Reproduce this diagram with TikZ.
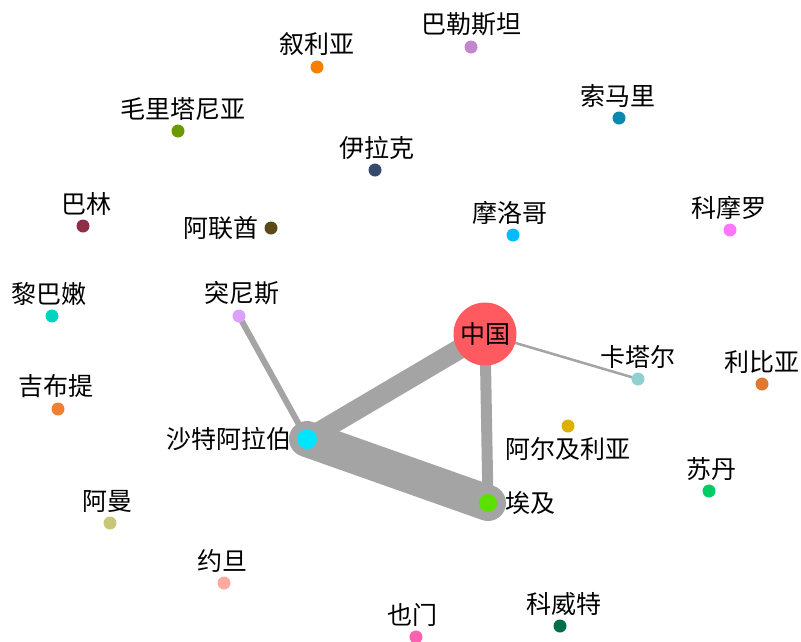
\documentclass[tikz,border=0pt]{standalone}
\usepackage{fontspec}
\newfontfamily\cjk{Noto Sans CJK SC}
\usetikzlibrary{backgrounds}

\definecolor{linkgray}{HTML}{A4A4A4}
\definecolor{cChina}{HTML}{FF5A5F}
\definecolor{cSyria}{HTML}{F77F00}
\definecolor{cPalestine}{HTML}{C384D0}
\definecolor{cMauritania}{HTML}{6A9A00}
\definecolor{cIraq}{HTML}{364A6E}
\definecolor{cSomalia}{HTML}{0A88B0}
\definecolor{cBahrain}{HTML}{8E2E48}
\definecolor{cUAE}{HTML}{5A4A1A}
\definecolor{cMorocco}{HTML}{00BBFF}
\definecolor{cComoros}{HTML}{FF77FF}
\definecolor{cLebanon}{HTML}{00D4C0}
\definecolor{cTunisia}{HTML}{DDA0FF}
\definecolor{cQatar}{HTML}{90D0D0}
\definecolor{cLibya}{HTML}{E07830}
\definecolor{cDjibouti}{HTML}{F08030}
\definecolor{cAlgeria}{HTML}{E0B000}
\definecolor{cSaudi}{HTML}{00E5FF}
\definecolor{cSudan}{HTML}{00CC66}
\definecolor{cEgypt}{HTML}{5CE000}
\definecolor{cOman}{HTML}{C6C878}
\definecolor{cJordan}{HTML}{FFAAA0}
\definecolor{cYemen}{HTML}{FF60B0}
\definecolor{cKuwait}{HTML}{006E4E}

\tikzset{
  country/.style={circle, inner sep=0pt, minimum size=13pt, draw=none},
  lbl/.style={font=\cjk\fontsize{25}{25}\selectfont, inner sep=0pt, text=black},
  link/.style={draw=linkgray, line cap=round},
}

\begin{document}
\begin{tikzpicture}[x=1pt, y=-1pt, label distance=4pt]
  \useasboundingbox (0,0) rectangle (801,641);

  % countries
  \node[country, fill=cChina, minimum size=63pt, lbl] (china) at (485,334) {中国};
  \node[country, fill=cSyria]      (syria)      at (317,67)  [label={[lbl]above:叙利亚}] {};
  \node[country, fill=cPalestine]  (palestine)  at (471,47)  [label={[lbl]above:巴勒斯坦}] {};
  \node[country, fill=cMauritania] (mauritania) at (178,131) [label={[lbl,xshift=5pt]above:毛里塔尼亚}] {};
  \node[country, fill=cIraq]       (iraq)       at (375,170) [label={[lbl,xshift=2pt]above:伊拉克}] {};
  \node[country, fill=cSomalia]    (somalia)    at (619,118) [label={[lbl,xshift=-1pt]above:索马里}] {};
  \node[country, fill=cBahrain]    (bahrain)    at (83,226)  [label={[lbl,xshift=3pt]above:巴林}] {};
  \node[country, fill=cUAE]        (uae)        at (271,228) [label={[lbl,label distance=6pt]left:阿联酋}] {};
  \node[country, fill=cMorocco]    (morocco)    at (513,235) [label={[lbl,xshift=-3pt]above:摩洛哥}] {};
  \node[country, fill=cComoros]    (comoros)    at (730,230) [label={[lbl,xshift=-1pt]above:科摩罗}] {};
  \node[country, fill=cLebanon]    (lebanon)    at (52,316)  [label={[lbl,xshift=-3pt]above:黎巴嫩}] {};
  \node[country, fill=cTunisia]    (tunisia)    at (239,316) [label={[lbl,xshift=3pt]above:突尼斯}] {};
  \node[country, fill=cQatar]      (qatar)      at (638,379) [label={[lbl]above:卡塔尔}] {};
  \node[country, fill=cLibya]      (libya)      at (762,384) [label={[lbl]above:利比亚}] {};
  \node[country, fill=cDjibouti]   (djibouti)   at (58,409)  [label={[lbl,xshift=-2pt]above:吉布提}] {};
  \node[country, fill=cAlgeria]    (algeria)    at (568,426) [label={[lbl,label distance=5pt]below:阿尔及利亚}] {};
  \node[country, fill=cSaudi, minimum size=20pt] (saudi) at (307,439) [label={[lbl,label distance=5pt]left:沙特阿拉伯}] {};
  \node[country, fill=cSudan]      (sudan)      at (709,491) [label={[lbl,xshift=2pt]above:苏丹}] {};
  \node[country, fill=cEgypt, minimum size=18pt] (egypt) at (488,503) [label={[lbl,label distance=8pt]right:埃及}] {};
  \node[country, fill=cOman]       (oman)       at (110,523) [label={[lbl,xshift=-3pt]above:阿曼}] {};
  \node[country, fill=cJordan]     (jordan)     at (224,583) [label={[lbl,xshift=-2pt]above:约旦}] {};
  \node[country, fill=cYemen]      (yemen)      at (416,637) [label={[lbl,xshift=-4pt]above:也门}] {};
  \node[country, fill=cKuwait]     (kuwait)     at (560,626) [label={[lbl,xshift=4pt]above:科威特}] {};

  % links
  \begin{scope}[on background layer]
    \draw[link, line width=36pt] (saudi.center) -- (egypt.center);
    \draw[link, line width=20pt] (china.center) -- (saudi.center);
    \draw[link, line width=11pt] (china.center) -- (egypt.center);
    \draw[link, line width=6pt]  (tunisia.center) -- (saudi.center);
    \draw[link, line width=2.5pt] (china.center) -- (qatar.center);
  \end{scope}
\end{tikzpicture}
\end{document}
